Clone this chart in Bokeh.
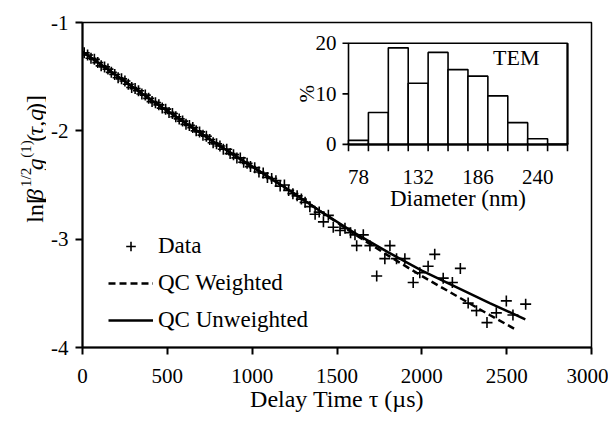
import math
from bokeh.plotting import figure
from bokeh.layouts import row
from bokeh.models import Range1d, Label, Legend, LegendItem, FixedTicker
from bokeh.embed import file_html
from bokeh.resources import INLINE
from bokeh.core.properties import value

# ---------------- data ----------------
tau_data = [10, 30, 50, 70, 90, 110, 130, 150, 170, 190,
            210, 230, 250, 270, 290, 310, 330, 350, 370, 390,
            410, 430, 450, 470, 490, 510, 530, 550, 570, 590,
            610, 630, 650, 670, 690, 710, 730, 750, 770, 790,
            810, 830, 850, 870, 890, 910, 930, 950, 970, 990,
            1015, 1040, 1065, 1090, 1115, 1140, 1165, 1190, 1215, 1240, 1265, 1290,
            1312, 1340, 1371, 1395, 1420, 1449, 1478, 1518, 1547, 1580, 1606, 1616,
            1655, 1694, 1734, 1782, 1812, 1851, 1900, 1949, 1988, 2037, 2076, 2126,
            2180, 2227, 2273, 2322, 2384, 2439, 2498, 2537, 2612]
ln_data = [-1.28, -1.30, -1.33, -1.34, -1.37, -1.40, -1.41, -1.43, -1.46, -1.48,
           -1.51, -1.52, -1.54, -1.57, -1.60, -1.61, -1.63, -1.66, -1.67, -1.70,
           -1.73, -1.74, -1.76, -1.79, -1.80, -1.83, -1.84, -1.87, -1.89, -1.91,
           -1.94, -1.95, -1.97, -2.00, -2.01, -2.04, -2.05, -2.08, -2.11, -2.12,
           -2.14, -2.17, -2.17, -2.21, -2.22, -2.25, -2.25, -2.29, -2.30, -2.33,
           -2.34, -2.38, -2.39, -2.43, -2.44, -2.46, -2.51, -2.50, -2.55, -2.58, -2.60, -2.63,
           -2.66, -2.70, -2.77, -2.75, -2.84, -2.78, -2.89, -2.92, -2.90, -2.94, -2.96, -3.06,
           -2.96, -3.06, -3.34, -3.18, -3.06, -3.18, -3.18, -3.40, -3.31, -3.25, -3.14, -3.36,
           -3.40, -3.27, -3.59, -3.66, -3.77, -3.68, -3.57, -3.70, -3.60]

tau_unw = [0, 200, 400, 600, 800, 1000, 1200, 1400, 1600, 1800, 2000, 2200, 2400, 2610]
ln_unw = [-1.27, -1.49, -1.71, -1.92, -2.13, -2.33, -2.53, -2.74, -2.94, -3.12, -3.29, -3.44, -3.59, -3.74]

tau_w = [0, 200, 400, 600, 800, 1000, 1200, 1400, 1600, 1800, 2000, 2200, 2400, 2560]
ln_w = [-1.27, -1.49, -1.71, -1.92, -2.13, -2.33, -2.53, -2.74, -2.95, -3.15, -3.34, -3.52, -3.70, -3.84]

x_ticks = [0, 500, 1000, 1500, 2000, 2500, 3000]
y_ticks = [-4, -3, -2, -1]
y_tick_labels = ["-4", "-3", "-2", "-1"]

# inset histogram (TEM)
bin_centers = [78, 96, 114, 132, 150, 168, 186, 204, 222, 240, 258]
bin_pct = [0.8, 6.3, 19.1, 12.1, 18.2, 14.8, 13.5, 9.6, 4.3, 1.1, 0.0]
bin_width = 18
inset_xtick_vals = [78, 132, 186, 240]
inset_xtick_labels = ["78", "132", "186", "240"]
inset_ytick_vals = [0, 10, 20]
inset_ytick_labels = ["0", "10", "20"]

# ---------------- layout (page px) ----------------
FONT = "Liberation Serif"
TOTAL_W, H = 608, 414
LW = 46                                  # strip that holds the y-axis title
FX0, FX1, FY0, FY1 = 82, 591, 22, 350    # main frame
IX0, IX1, IY0, IY1 = 348, 567, 43, 145   # inset frame
XR = (0, 3000)
YR = (-4, -1)

# ---- y-axis title strip ----
lf = figure(width=LW, height=H, x_range=Range1d(0, LW), y_range=Range1d(H, 0),
            output_backend="svg", toolbar_location=None,
            min_border_left=0, min_border_right=0, min_border_top=0, min_border_bottom=0,
            x_axis_type=None, y_axis_type=None)
lf.xgrid.visible = False
lf.ygrid.visible = False
lf.outline_line_color = None
lf.background_fill_color = "white"
lf.border_fill_color = "white"

# (text, font px, style, superscript?, advance in em, extra gap px)
pieces = [("ln[", 24, "normal", False, 1.111, 1),
          ("\u03b2", 24, "italic", False, 0.58, 4),
          ("1/2", 15, "normal", True, 1.278, 2),
          ("g", 24, "italic", False, 0.5, 4),
          ("(1)", 15, "normal", True, 1.166, 3),
          ("(", 24, "normal", False, 0.333, 0),
          ("\u03c4,q", 24, "italic", False, 1.25, 1),
          (")]", 24, "normal", False, 0.666, 0)]
total = sum(s * em + gap for _, s, _, _, em, gap in pieces)
base_x = 34
cy = 176 + total / 2
for txt, size, style, sup, em, gap in pieces:
    bx = base_x - 9 if sup else base_x
    lf.add_layout(Label(x=bx, y=cy, text=txt, angle=math.pi / 2,
                        text_align="left", text_baseline="alphabetic",
                        text_font=FONT, text_font_size=f"{size}px", text_font_style=style,
                        text_color="black"))
    cy -= size * em + gap

# ---- main figure ----
p = figure(width=TOTAL_W - LW, height=H, x_range=Range1d(*XR), y_range=Range1d(*YR),
           output_backend="svg", toolbar_location=None,
           min_border_left=FX0 - LW, min_border_right=TOTAL_W - FX1,
           min_border_top=FY0, min_border_bottom=H - FY1)
p.xgrid.visible = False
p.ygrid.visible = False
p.background_fill_color = "white"
p.border_fill_color = "white"
p.outline_line_color = "black"
p.outline_line_width = 1.5

for ax in (p.xaxis[0], p.yaxis[0]):
    ax.axis_line_width = 2
    ax.axis_line_color = "black"
    ax.major_tick_line_width = 2
    ax.major_tick_line_color = "black"
    ax.major_tick_out = 7
    ax.major_tick_in = 0
    ax.minor_tick_line_color = None
    ax.major_label_text_font = FONT
    ax.major_label_text_font_size = "21px"
    ax.major_label_text_color = "black"
    ax.axis_label_text_font = FONT
    ax.axis_label_text_font_size = "24px"
    ax.axis_label_text_font_style = "normal"
    ax.axis_label_text_color = "black"

p.xaxis.ticker = FixedTicker(ticks=x_ticks)
p.yaxis.ticker = FixedTicker(ticks=y_ticks)
p.yaxis.major_label_overrides = {t: s for t, s in zip(y_ticks, y_tick_labels)}
p.xaxis.axis_label = "Delay Time \u03c4 (\u00b5s)"
p.xaxis.axis_label_standoff = 0
p.xaxis.major_label_standoff = 14
p.yaxis.major_label_standoff = 7

# ---------------- main data ----------------
r_data = p.scatter(tau_data, ln_data, marker="cross", size=11, line_width=1.6, color="black")
r_w = p.line(tau_w, ln_w, line_dash="7 4", line_width=2.5, color="black")
r_u = p.line(tau_unw, ln_unw, line_width=2.5, color="black")

legend = Legend(items=[LegendItem(label="Data", renderers=[r_data]),
                       LegendItem(label="QC Weighted", renderers=[r_w]),
                       LegendItem(label="QC Unweighted", renderers=[r_u])],
                location=(26, 14), orientation="vertical",
                background_fill_alpha=0, border_line_color=None,
                padding=0, margin=0, spacing=11,
                glyph_width=45, glyph_height=24, label_height=24, label_standoff=5,
                label_text_font=FONT, label_text_font_size="23px", label_text_color="black")
p.add_layout(legend)

# ---------------- inset (drawn in the main frame via extra ranges) ----------------
ixa = bin_centers[0] - bin_width / 2
ixb = bin_centers[-1] + bin_width / 2
iya, iyb = 0, 20
kx = (ixb - ixa) / (IX1 - IX0)
ky = (iyb - iya) / (IY1 - IY0)
p.extra_x_ranges = {"ix": Range1d(ixa - (IX0 - FX0) * kx, ixb + (FX1 - IX1) * kx)}
p.extra_y_ranges = {"iy": Range1d(iya - (FY1 - IY1) * ky, iyb + (IY0 - FY0) * ky)}
kw = dict(x_range_name="ix", y_range_name="iy")

p.quad(left=[ixa], right=[ixb], bottom=[iya], top=[iyb], fill_color="white",
       line_color="black", line_width=1.6, **kw)
p.quad(left=[c - bin_width / 2 for c in bin_centers], right=[c + bin_width / 2 for c in bin_centers],
       bottom=0, top=bin_pct, fill_color="white", line_color="black", line_width=1.6, **kw)
p.segment(x0=[ixa, ixb], y0=[iya, iya], x1=[ixb, ixb], y1=[iya, iyb], line_color="black",
          line_width=2, **kw)

edges = [c - bin_width / 2 for c in bin_centers] + [ixb]
p.segment(x0=edges, y0=[iya + 1.5 * ky] * len(edges), x1=edges, y1=[iya - 7 * ky] * len(edges),
          line_color="black", line_width=1.6, **kw)
p.segment(x0=[ixa] * len(inset_ytick_vals), y0=inset_ytick_vals,
          x1=[ixa - 6 * kx] * len(inset_ytick_vals), y1=inset_ytick_vals,
          line_color="black", line_width=1.6, **kw)

p.text(x=inset_xtick_vals, y=[iya - 33 * ky] * len(inset_xtick_vals), text=inset_xtick_labels,
       text_align="center", text_baseline="middle", text_font=value(FONT),
       text_font_size="21px", text_color="black", **kw)
p.text(x=[ixa - 12 * kx] * len(inset_ytick_vals), y=inset_ytick_vals, text=inset_ytick_labels,
       text_align="right", text_baseline="middle", text_font=value(FONT),
       text_font_size="21px", text_color="black", **kw)

p.add_layout(Label(x=ixa - 42 * kx, y=(iya + iyb) / 2, text="%", angle=math.pi / 2,
                   text_align="center", text_baseline="middle", text_font=FONT,
                   text_font_size="21px", text_color="black", **kw))
p.add_layout(Label(x=(ixa + ixb) / 2, y=iya - 55 * ky, text="Diameter (nm)",
                   text_align="center", text_baseline="middle", text_font=FONT,
                   text_font_size="23px", text_color="black", **kw))
p.add_layout(Label(x=ixb - 28 * kx, y=iyb - 14 * ky, text="TEM",
                   text_align="right", text_baseline="middle", text_font=FONT,
                   text_font_size="22px", text_color="black", **kw))

layout = row(lf, p, spacing=0)
open("out.html", "w").write(file_html(layout, INLINE))
